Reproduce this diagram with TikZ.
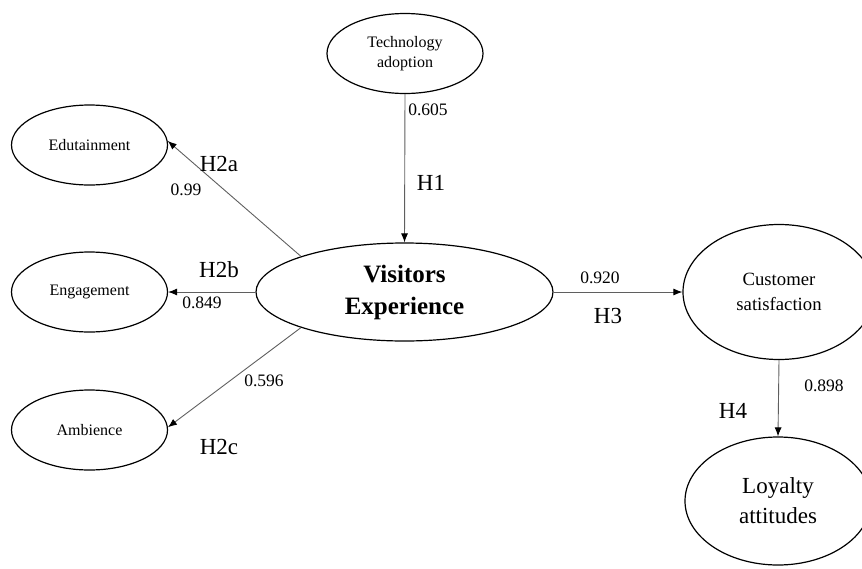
\documentclass[tikz,border=0pt]{standalone}
\usepackage{fontspec}
\setmainfont{Liberation Serif}
\usetikzlibrary{shapes.geometric,arrows.meta}
\definecolor{linegray}{RGB}{95,95,95}
\tikzset{
  ell/.style={draw=black, line width=1.2pt, ellipse, inner sep=0pt, align=center},
  smallell/.style={ell, minimum width=156pt, minimum height=80pt, font=\fontsize{16}{20}\selectfont},
  arr/.style={draw=linegray, line width=0.9pt, -{Latex[length=9pt,width=7pt,color=black]}},
  numlbl/.style={font=\fontsize{17.5}{20}\selectfont, inner sep=0pt},
  hlbl/.style={font=\fontsize{23}{26}\selectfont, inner sep=0pt}
}
\begin{document}
\begin{tikzpicture}[x=1pt,y=-1pt]
\useasboundingbox (0,0) rectangle (862,568);
% ellipses
\node[smallell] (tech) at (405,53.5) {Technology\\adoption};
\node[smallell] (edu) at (89.5,145) {Edutainment};
\node[smallell] (eng) at (89.5,292) {Engagement};
\node[smallell] (amb) at (89.5,430) {Ambience};
\node[ell, minimum width=297pt, minimum height=98pt, font=\fontsize{25}{32}\selectfont\bfseries] (ve) at (404.5,292) {Visitors\\Experience};
\node[ell, minimum width=192pt, minimum height=135pt, font=\fontsize{18.7}{25}\selectfont] (cs) at (779,292) {Customer\\satisfaction};
\node[ell, minimum width=186pt, minimum height=128pt, font=\fontsize{23}{30}\selectfont] (loy) at (778,501) {Loyalty\\attitudes};
% connectors
\draw[arr] (tech.south) -- (ve.north);
\draw[arr] (ve.161) -- (edu.3);
\draw[arr] (ve.west) -- (eng.east);
\draw[arr] (ve.199) -- (amb.2);
\draw[arr] (ve.east) -- (cs.west);
\draw[arr] (cs.south) -- (loy.north);
% labels
\node[numlbl] (n1) at (428,110) {0.605};
\node[hlbl] (h1) at (431,183) {H1};
\node[hlbl] (h2a) at (219,164) {H2a};
\node[numlbl] (n2a) at (186,190) {0.99};
\node[hlbl] (h2b) at (219,270) {H2b};
\node[numlbl] (n2b) at (202,303) {0.849};
\node[numlbl] (n2c) at (264,381) {0.596};
\node[hlbl] (h2c) at (219,447) {H2c};
\node[numlbl] (n3) at (600,278) {0.920};
\node[hlbl] (h3) at (608,316) {H3};
\node[numlbl] (n4) at (824,386) {0.898};
\node[hlbl] (h4) at (733,411) {H4};
\end{tikzpicture}
\end{document}
